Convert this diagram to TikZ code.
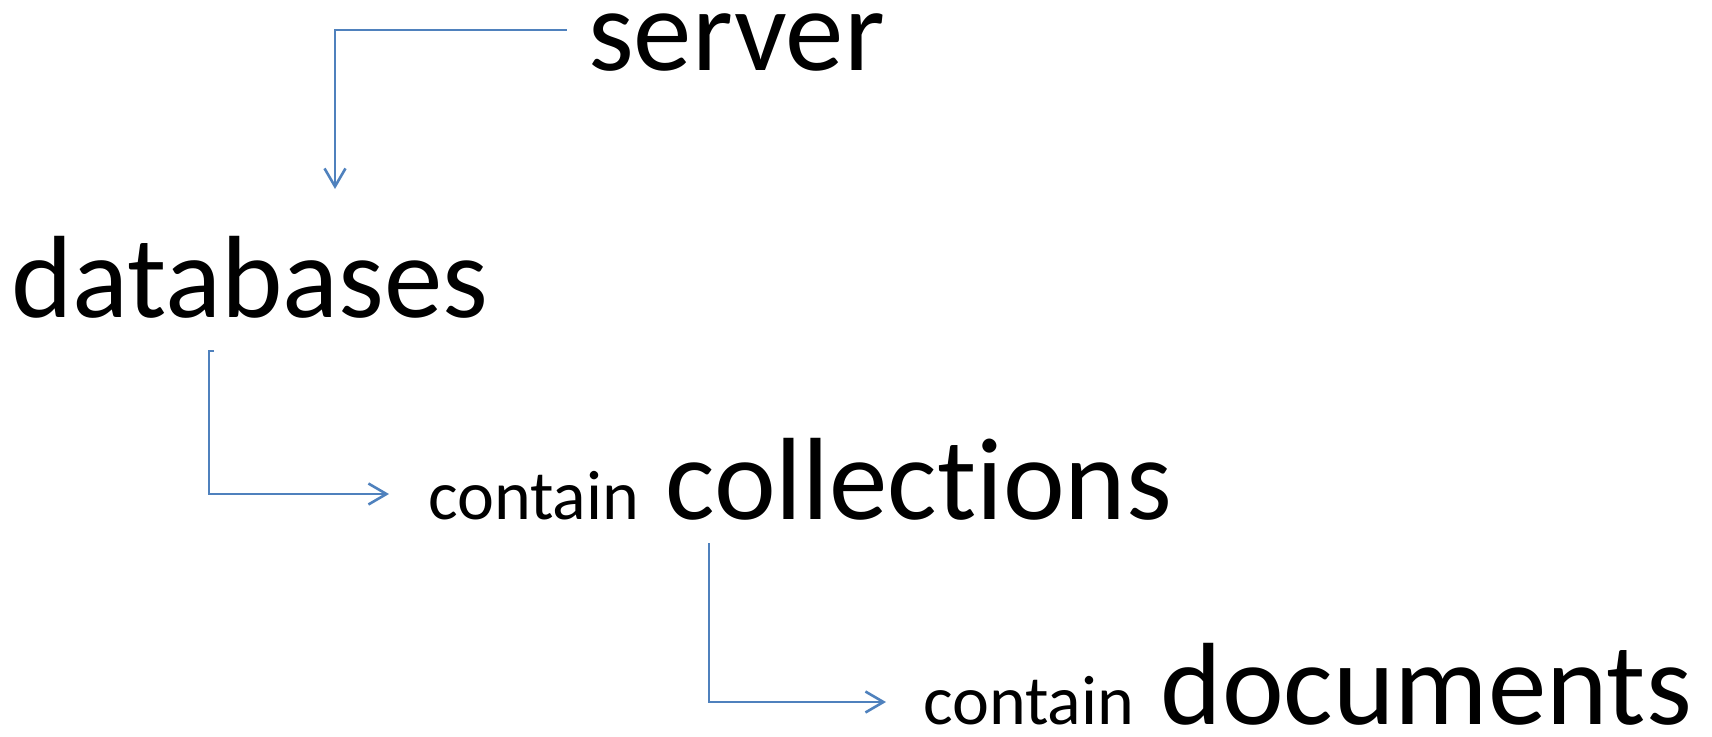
\documentclass[tikz,border=0pt]{standalone}
\usepackage{fontspec}
\setmainfont[Ligatures=NoCommon]{Carlito}
\usetikzlibrary{arrows.meta}
\definecolor{linkblue}{HTML}{4F81BD}
\newcommand{\bigword}{\fontsize{117}{127}\selectfont}
\newcommand{\smallword}{\fontsize{70}{78}\selectfont}
\tikzset{
    word/.style={anchor=base west, inner sep=0pt, font=\bigword},
    link/.style={draw=linkblue, line width=2.6pt, -{Straight Barb[length=18pt,width=21pt]}}
}
\begin{document}
\begin{tikzpicture}[x=1pt,y=-1pt]
        \useasboundingbox (0,0) rectangle (1712,736);

        %words
        \node[word] (srv) at (588,70) {server};
        \node[word] (db) at (11,317) {databases};
        \node[word] (coll) at (428,519) {{\smallword contain} collections};
        \node[word] (docs) at (923,724) {{\smallword contain} documents};

        %ends of the links
        \coordinate (srvout) at (566.5,30);
        \coordinate (dbin) at (335,189);
        \coordinate (dbout) at (214,351);
        \coordinate (collin) at (389,494);
        \coordinate (collout) at (709,543);
        \coordinate (docsin) at (886,702);

        %arrows
        \draw[link] (srvout) -| (dbin);
        \draw[link] (dbout) -- ++(-5,0) |- (collin);
        \draw[link] (collout) |- (docsin);
    \end{tikzpicture}
\end{document}
